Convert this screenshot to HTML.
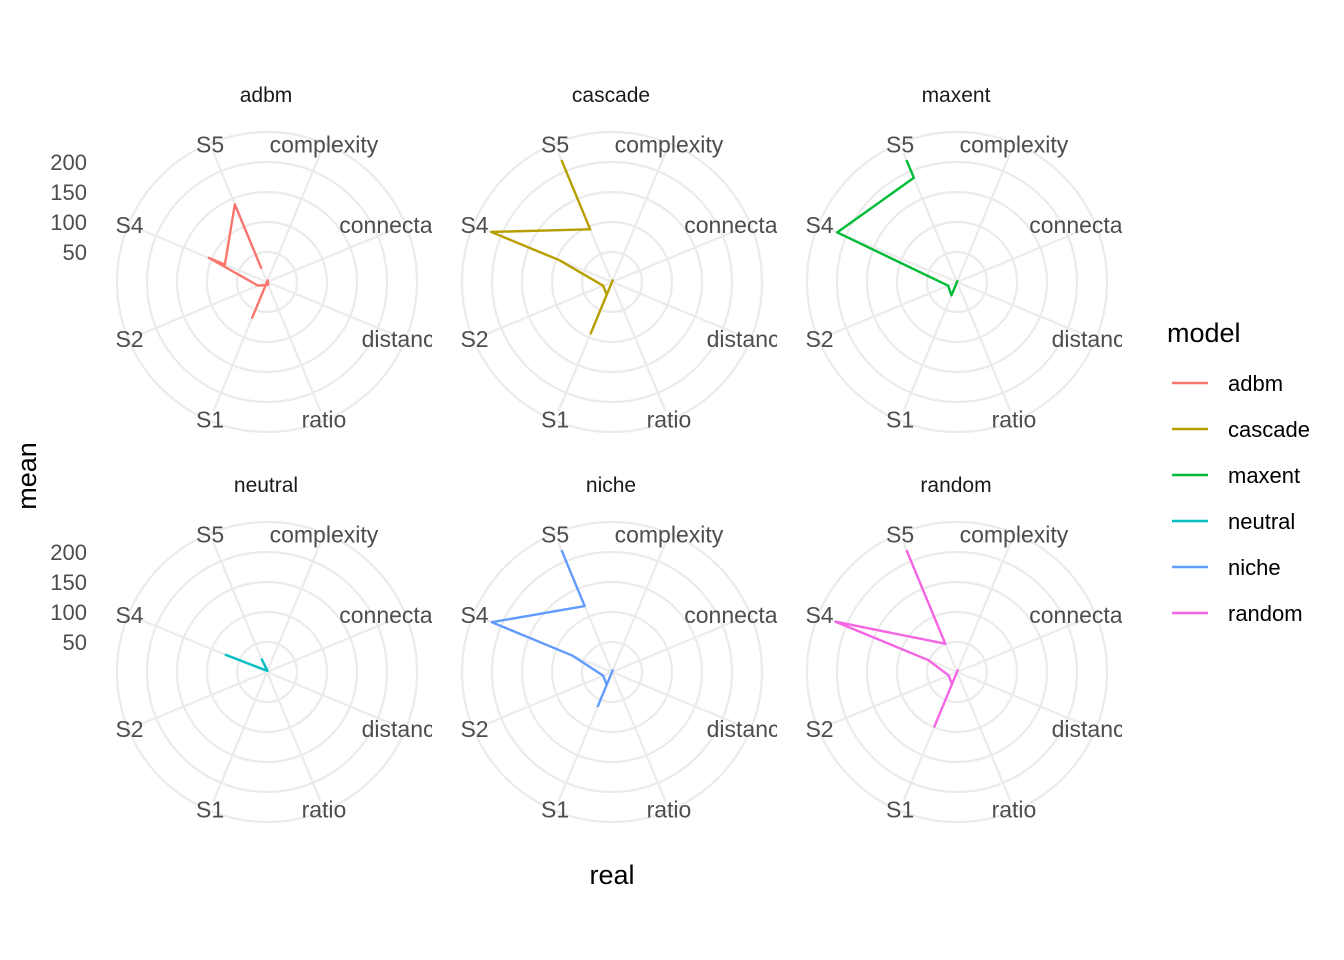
<!DOCTYPE html>
<html><head><meta charset="utf-8"><style>
html,body{margin:0;padding:0;background:#fff}
svg{display:block;font-family:"Liberation Sans",sans-serif}
</style></head><body>
<svg id="chart" width="1344" height="960" viewBox="0 0 1344 960"></svg>
<script>
const categories = ["complexity","connectance","distance","ratio","S1","S2","S4","S5"];
const models = ["adbm","cascade","maxent","neutral","niche","random"];
const colors = ["#F8766D","#B79F00","#00BA38","#00BFC4","#619CFF","#F564E3"];
const radialTicks = [50,100,150,200];
const gridValues = [50,100,150,200,250];
const adbmCats = ["S5","S5","S4","S4","S2","ratio","complexity","S1"];
const adbmVals = [24,140,76,105,16,5,3,66];
const cascadeCats = ["S5","S5","S4","S4","S2","S1","complexity","S1"];
const cascadeVals = [220,95,218,95,16,23,3,94];
const maxentCats = ["S5","S5","S4","S2","S1","complexity"];
const maxentVals = [220,188,216,16,24,3];
const neutralCats = ["S5","complexity","S4"];
const neutralVals = [24,2,76];
const nicheCats = ["S5","S5","S4","S4","S2","S1","complexity","S1"];
const nicheVals = [220,119,217,71,16,23,3,63];
const randomCats = ["S5","S5","S4","S4","S2","S1","complexity","S1"];
const randomVals = [220,51,219,52,15,22,3,100];
const seriesCats = [adbmCats,cascadeCats,maxentCats,neutralCats,nicheCats,randomCats];
const seriesVals = [adbmVals,cascadeVals,maxentVals,neutralVals,nicheVals,randomVals];

const NS="http://www.w3.org/2000/svg";
const svg=document.getElementById('chart');
function mk(tag,attrs,parent){const e=document.createElementNS(NS,tag);for(const k in attrs)e.setAttribute(k,attrs[k]);(parent||svg).appendChild(e);return e;}
const SCALE=0.6;
function rScale(v){return v*SCALE;}
function angle(cat){const i=categories.indexOf(cat);return (i+0.5)*Math.PI/4;}
function pt(cx,cy,cat,v){const a=angle(cat),r=rScale(v);return [cx+r*Math.sin(a),cy-r*Math.cos(a)];}

const defs=mk('defs',{});
const centersX=[267,612,957], centersY=[282,672];
models.forEach((m,k)=>{
  const cx=centersX[k%3], cy=centersY[Math.floor(k/3)];
  const cp=mk('clipPath',{id:'clip'+k},defs);
  mk('rect',{x:cx-165,y:cy-170,width:330,height:345},cp);
  const g=mk('g',{'clip-path':'url(#clip'+k+')'});
  
  
  gridValues.forEach(v=>{
    const c=mk('circle',{cx:cx,cy:cy,r:rScale(v),fill:'none',stroke:'#EBEBEB','stroke-width':2.2},g);
    
    
  });
  categories.forEach(cat=>{
    const p=pt(cx,cy,cat,233);
    const l=mk('line',{x1:cx,y1:cy,x2:p[0],y2:p[1],stroke:'#EBEBEB','stroke-width':2.2},g);
    
    
    const q=pt(cx,cy,cat,248);
    const t=mk('text',{x:q[0],y:q[1]+8,'text-anchor':'middle','font-size':23,fill:'#4D4D4D'},g);
    t.textContent=cat;
    
    
  });
  const pts=seriesCats[k].map((c,i)=>pt(cx,cy,c,seriesVals[k][i]).join(','));
  const pl=mk('polyline',{points:pts.join(' '),fill:'none',stroke:colors[k],'stroke-width':2.4,'stroke-linejoin':'round'},g);
  
  
  const st=mk('text',{x:cx-1,y:cy-180,'text-anchor':'middle','font-size':21,fill:'#1A1A1A'});
  st.textContent=m;
  
  
  if(k%3===0){
    radialTicks.forEach(v=>{
      const t=mk('text',{x:87,y:cy-rScale(v)+8,'text-anchor':'end','font-size':22,fill:'#4D4D4D'});
      t.textContent=v;
      
      
    });
  }
});
const yt=mk('text',{x:0,y:0,transform:'translate(36,476) rotate(-90)','text-anchor':'middle','font-size':27,fill:'#000'});
yt.textContent='mean';


const xt=mk('text',{x:612,y:884,'text-anchor':'middle','font-size':27,fill:'#000'});
xt.textContent='real';


const lg=mk('g',{});


const lt=mk('text',{x:1167,y:342,'font-size':27,fill:'#000'},lg);
lt.textContent='model';


models.forEach((m,k)=>{
  const y=383+k*46;
  const e=mk('g',{},lg);
  
  
  mk('line',{x1:1172,y1:y,x2:1208,y2:y,stroke:colors[k],'stroke-width':2.4},e);
  const t=mk('text',{x:1228,y:y+8,'font-size':22,fill:'#000'},e);
  t.textContent=m;
});
</script>
</body></html>
